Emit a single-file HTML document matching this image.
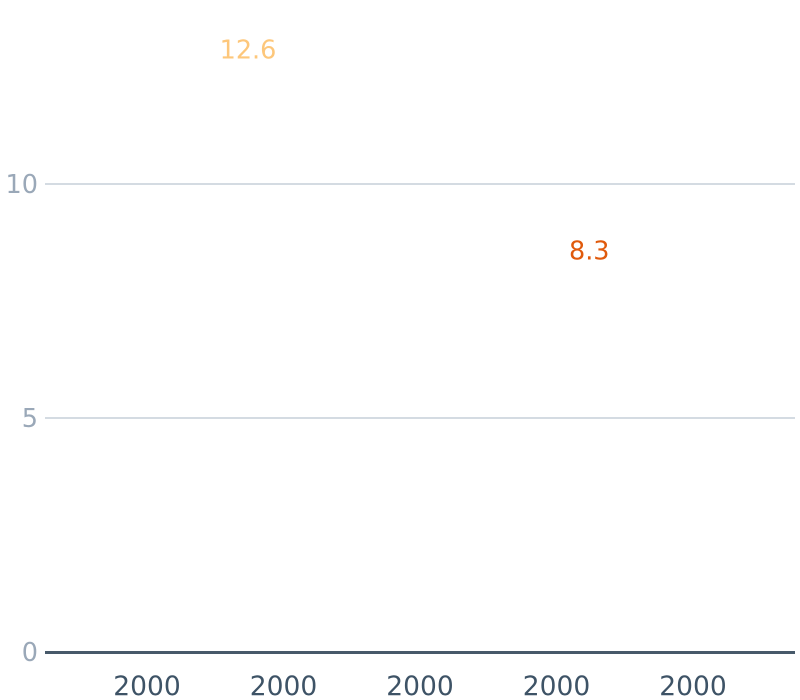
<!DOCTYPE html>
<html><head><meta charset="utf-8"><style>
html,body{margin:0;padding:0;background:#fff;}
svg{display:block;font-family:"DejaVu Sans","Liberation Sans",sans-serif;}
</style></head><body>
<svg id="chart" width="800" height="700" viewBox="0 0 800 700"></svg>
<script>
const categories = ["2000","2000","2000","2000","2000"];
const yTicks = [0, 5, 10];
const labelValues = [12.6, 8.3];
const labelPositions = [0.74, 3.24]; // category-axis position (index units)
const labelColors = ["#fdc77b", "#e05a0c"];

const svg = document.getElementById('chart');
const NS = 'http://www.w3.org/2000/svg';
const plotLeft = 45, plotRight = 795;
const y0 = 652, yPerUnit = 46.8;
function yScale(v){ return y0 - v * yPerUnit; }
function xScale(i){ return 147 + i * 136.5; }
function mk(tag, attrs, text){
  const e = document.createElementNS(NS, tag);
  for (const k in attrs) e.setAttribute(k, attrs[k]);
  if (text !== undefined) e.textContent = text;
  svg.appendChild(e);
  return e;
}
yTicks.forEach(t => {
  const y = yScale(t);
  if (t !== 0) {
    const g = mk('line', {x1: plotLeft, x2: plotRight, y1: y, y2: y, stroke: '#a9b7c6', 'stroke-width': 1});
    
    
  }
  const l = mk('text', {x: 38, y: y + 9, 'text-anchor': 'end', 'font-size': 25.5, fill: '#9aa8b8'}, String(t));
  
  
});
const base = mk('line', {x1: plotLeft, x2: plotRight, y1: yScale(0) + 0.5, y2: yScale(0) + 0.5, stroke: '#47596a', 'stroke-width': 3});


categories.forEach((c, i) => {
  const t = mk('text', {x: xScale(i), y: 695, 'text-anchor': 'middle', 'font-size': 26.5, fill: '#3e5366'}, c);
  
  
});
labelValues.forEach((v, i) => {
  const t = mk('text', {x: xScale(labelPositions[i]), y: yScale(v) - 4, 'text-anchor': 'middle', 'font-size': 25.5, fill: labelColors[i]}, v.toFixed(1));
  
  
});
</script>
</body></html>
